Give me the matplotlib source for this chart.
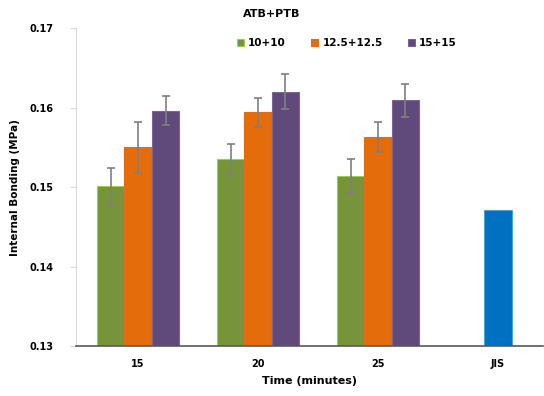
import matplotlib
matplotlib.use("Agg")
import matplotlib.pyplot as plt
import numpy as np

# chart data
times = ["15", "20", "25"]
series = ["10+10", "12.5+12.5", "15+15"]
means = {
    "10+10": [0.1501, 0.1535, 0.1514],
    "12.5+12.5": [0.1550, 0.1594, 0.1563],
    "15+15": [0.1596, 0.1620, 0.1609],
}
errors = {
    "10+10": [0.0023, 0.0019, 0.0021],
    "12.5+12.5": [0.0032, 0.0018, 0.0019],
    "15+15": [0.0018, 0.0022, 0.0021],
}
jis_label = "JIS"
jis_value = 0.1471

colors = {"10+10": "#77933C", "12.5+12.5": "#E46C0A", "15+15": "#604A7B"}
edges = {"10+10": "#9BD04A", "12.5+12.5": "#E46C0A", "15+15": "#7B6496"}

plt.rcParams["font.family"] = ["DejaVu Sans"]
plt.rcParams["font.weight"] = "bold"

fig = plt.figure(figsize=(5.44, 3.96), dpi=100)
ax = fig.add_axes([0.14, 0.126, 0.858, 0.803])

x = np.arange(len(times))
width = 0.228
for i, s in enumerate(series):
    ax.bar(x + (i - 1) * width, means[s], width, color=colors[s],
           edgecolor=edges[s], linewidth=0.8, label=s,
           yerr=errors[s], ecolor="#7F7F7F",
           error_kw=dict(elinewidth=1.2, capsize=3, capthick=1.2))
ax.bar(len(times), jis_value, width, color="#0070C0", edgecolor="#4BA3D9",
       linewidth=0.8)

ax.set_xticks(list(x) + [len(times)])
ax.set_xticklabels(times + [jis_label], fontsize=7, fontweight="bold")
ax.set_xlim(-0.517, 3.375)
ax.set_ylim(0.13, 0.17)
ax.set_yticks([0.13, 0.14, 0.15, 0.16, 0.17])
ax.set_yticklabels(["0.13", "0.14", "0.15", "0.16", "0.17"], fontsize=7,
                   fontweight="bold")
ax.tick_params(axis="x", length=0, pad=9)
ax.tick_params(axis="y", length=4, color="#D9D9D9", pad=12)

for side in ["top", "right"]:
    ax.spines[side].set_visible(False)
ax.spines["left"].set_color("#D9D9D9")
ax.spines["bottom"].set_color("#595959")
ax.spines["bottom"].set_linewidth(1.2)

ax.set_xlabel("Time (minutes)", fontsize=8, fontweight="bold", labelpad=5)
ax.set_ylabel("Internal Bonding (MPa)", fontsize=7.5, fontweight="bold",
              labelpad=7)

fig.text(0.5, 0.965, "ATB+PTB", ha="center", va="center", fontsize=8,
         fontweight="bold")
ax.legend(loc="center", bbox_to_anchor=(0.58, 0.953), ncol=3,
          frameon=False, fontsize=7.5, handlelength=0.7, handleheight=0.7,
          columnspacing=2.4, handletextpad=0.4)

fig.savefig("out.png", dpi=100)
